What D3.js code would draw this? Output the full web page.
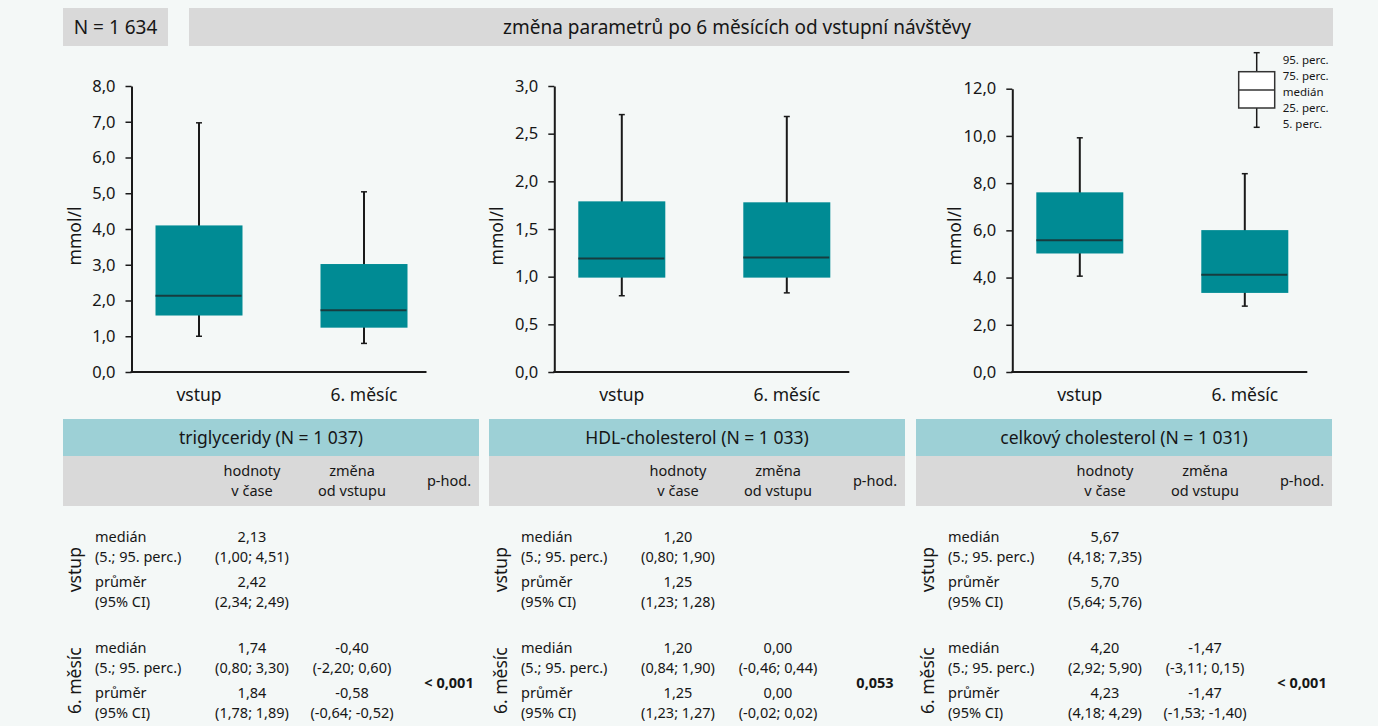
<!DOCTYPE html>
<meta charset="utf-8">
<style>
body { margin: 0; background: #f4f8f7; }
svg { display: block; font-family: "Noto Sans", sans-serif; }
text { fill: #161616; }
</style>
<svg width="1378" height="726"></svg>
<script src="https://d3js.org/d3.v7.min.js"></script>
<script>

// data
var totalN = "N = 1 634";
var title = "změna parametrů po 6 měsících od vstupní návštěvy";
var panels = ["triglyceridy", "HDL-cholesterol", "celkový cholesterol"];
var panelN = [1037, 1033, 1031];
var categories = ["vstup", "6. měsíc"];

// box stats: [5. perc, 25. perc, median, 75. perc, 95. perc]
var trigBox = [[1.00, 1.58, 2.13, 4.10, 6.97], [0.80, 1.24, 1.73, 3.02, 5.04]];
var hdlBox = [[0.80, 0.99, 1.19, 1.79, 2.70], [0.83, 0.99, 1.20, 1.78, 2.68]];
var cholBox = [[4.06, 5.02, 5.58, 7.61, 9.92], [2.79, 3.35, 4.12, 6.01, 8.40]];
var yMax = [8, 3, 12];
var yStep = [1, 0.5, 2];

// table values: [median, p5, p95, mean, ciLow, ciHigh]
var trigStart = [2.13, 1.00, 4.51, 2.42, 2.34, 2.49];
var trigSix = [1.74, 0.80, 3.30, 1.84, 1.78, 1.89];
var trigChange = [-0.40, -2.20, 0.60, -0.58, -0.64, -0.52];
var hdlStart = [1.20, 0.80, 1.90, 1.25, 1.23, 1.28];
var hdlSix = [1.20, 0.84, 1.90, 1.25, 1.23, 1.27];
var hdlChange = [0.00, -0.46, 0.44, 0.00, -0.02, 0.02];
var cholStart = [5.67, 4.18, 7.35, 5.70, 5.64, 5.76];
var cholSix = [4.20, 2.92, 5.90, 4.23, 4.18, 4.29];
var cholChange = [-1.47, -3.11, 0.15, -1.47, -1.53, -1.40];
var pValues = ["< 0,001", "0,053", "< 0,001"];

var rowLabels = ["medián", "(5.; 95. perc.)", "průměr", "(95% CI)"];
var colHeads = [["hodnoty", "v čase"], ["změna", "od vstupu"]];
var legendLabels = ["95. perc.", "75. perc.", "medián", "25. perc.", "5. perc."];

var boxes = [trigBox, hdlBox, cholBox];
var tables = [[trigStart, trigSix, trigChange], [hdlStart, hdlSix, hdlChange], [cholStart, cholSix, cholChange]];

// layout
var axisX = [131.5, 554.3, 1012.3];
var yTop = [86, 86, 88.7];
var yBottom = 372;
var axisLen = 295;
var boxW = 87;
var tableX = [63, 489, 916];
var tableW = 416;

var boxFill = "#008b94";
var ink = "#1a1a1a";

var loc = d3.formatLocale({decimal: ",", thousands: " ", grouping: [3], currency: ["", ""], minus: "-"});
var f1 = loc.format(".1f"), f2 = loc.format(".2f"), fN = loc.format(",d");

var svg = d3.select("svg");

svg.append("rect").attr("width", 1378).attr("height", 726).attr("fill", "#f4f8f7");

// header
svg.append("rect").attr("x", 63).attr("y", 8).attr("width", 105).attr("height", 38).attr("fill", "#d9d9d9");
svg.append("text").attr("x", 115.5).attr("y", 27).attr("dy", "0.35em")
    .attr("text-anchor", "middle").style("font-size", "19px").text(totalN);
svg.append("rect").attr("x", 189).attr("y", 8).attr("width", 1144).attr("height", 38).attr("fill", "#d9d9d9");
svg.append("text").attr("x", 737).attr("y", 27).attr("dy", "0.35em")
    .attr("text-anchor", "middle").style("font-size", "19px").text(title);

panels.forEach(function(name, i) {
  var ax = axisX[i];
  var y = d3.scaleLinear().domain([0, yMax[i]]).range([yBottom, yTop[i]]);
  var x = d3.scalePoint().domain(categories).range([ax + 67.5, ax + 232.5]);
  var g = svg.append("g");

  // whiskers
  var bx = g.selectAll(".box")
    .data(categories.map(function(c, j) { return {cat: c, s: boxes[i][j]}; }))
    .enter().append("g").attr("class", "box");

  bx.append("line")
      .attr("x1", function(d) { return x(d.cat); })
      .attr("x2", function(d) { return x(d.cat); })
      .attr("y1", function(d) { return y(d.s[0]); })
      .attr("y2", function(d) { return y(d.s[4]); })
      .attr("stroke", ink).attr("stroke-width", 2);

  [0, 4].forEach(function(k) {
    bx.append("line")
        .attr("x1", function(d) { return x(d.cat) - 3; })
        .attr("x2", function(d) { return x(d.cat) + 3; })
        .attr("y1", function(d) { return y(d.s[k]); })
        .attr("y2", function(d) { return y(d.s[k]); })
        .attr("stroke", ink).attr("stroke-width", 1.5);
  });

  bx.append("rect")
      .attr("x", function(d) { return x(d.cat) - boxW / 2; })
      .attr("width", boxW)
      .attr("y", function(d) { return y(d.s[3]); })
      .attr("height", function(d) { return y(d.s[1]) - y(d.s[3]); })
      .attr("fill", boxFill);

  bx.append("line")
      .attr("x1", function(d) { return x(d.cat) - boxW / 2; })
      .attr("x2", function(d) { return x(d.cat) + boxW / 2 - 1; })
      .attr("y1", function(d) { return y(d.s[2]); })
      .attr("y2", function(d) { return y(d.s[2]); })
      .attr("stroke", "#173c3f").attr("stroke-width", 2);

  // axes
  var ya = g.append("g").attr("transform", "translate(" + ax + ",0)")
      .call(d3.axisLeft(y)
        .tickValues(d3.range(0, yMax[i] + 1e-6, yStep[i]))
        .tickFormat(f1).tickSize(6).tickSizeOuter(0).tickPadding(10));
  ya.select(".domain").attr("stroke", ink).attr("stroke-width", 2);
  ya.selectAll(".tick line").attr("stroke", ink).attr("stroke-width", 1.5);
  ya.selectAll(".tick text").style("font-size", "16.5px").style("font-family", "Noto Sans").attr("fill", "#161616");

  g.append("line").attr("x1", ax - 1).attr("x2", ax + axisLen)
      .attr("y1", yBottom).attr("y2", yBottom)
      .attr("stroke", ink).attr("stroke-width", 2);

  g.selectAll(".cat").data(categories).enter().append("text")
      .attr("x", function(d) { return x(d); })
      .attr("y", 395).attr("dy", "0.35em")
      .attr("text-anchor", "middle").style("font-size", "17.5px")
      .text(function(d) { return d; });

  g.append("text")
      .attr("transform", "translate(" + (ax - 57) + ",236) rotate(-90)")
      .attr("dy", "0.35em").attr("text-anchor", "middle")
      .style("font-size", "17.5px").text("mmol/l");

  // table
  var t = svg.append("g").attr("transform", "translate(" + tableX[i] + ",0)");
  t.append("rect").attr("y", 419).attr("width", tableW).attr("height", 37).attr("fill", "#9dd0d6");
  t.append("rect").attr("y", 456).attr("width", tableW).attr("height", 50).attr("fill", "#d9d9d9");
  t.append("text").attr("x", tableW / 2).attr("y", 437.5).attr("dy", "0.35em")
      .attr("text-anchor", "middle").style("font-size", "17.5px")
      .text(name + " (N = " + fN(panelN[i]) + ")");

  var colX = [189, 289, 386];
  colHeads.forEach(function(h, c) {
    h.forEach(function(line, l) {
      t.append("text").attr("x", colX[c]).attr("y", 471 + l * 20).attr("dy", "0.35em")
          .attr("text-anchor", "middle").style("font-size", "14.5px").text(line);
    });
  });
  t.append("text").attr("x", colX[2]).attr("y", 481).attr("dy", "0.35em")
      .attr("text-anchor", "middle").style("font-size", "14.5px").text("p-hod.");

  var groupY = [536.7, 647.7];
  var rowOff = [0, 20, 45, 65];
  var vals = tables[i];

  function cells(v) {
    return [f2(v[0]), "(" + f2(v[1]) + "; " + f2(v[2]) + ")", f2(v[3]), "(" + f2(v[4]) + "; " + f2(v[5]) + ")"];
  }

  categories.forEach(function(cat, gi) {
    var gy = groupY[gi];
    t.append("text")
        .attr("transform", "translate(12," + (gy + 33) + ") rotate(-90)")
        .attr("dy", "0.35em").attr("text-anchor", "middle")
        .style("font-size", "17.5px").text(cat);

    rowLabels.forEach(function(lab, r) {
      t.append("text").attr("x", 32).attr("y", gy + rowOff[r]).attr("dy", "0.35em")
          .style("font-size", "14.5px").text(lab);
    });

    var cols = gi === 0 ? [vals[0]] : [vals[1], vals[2]];
    cols.forEach(function(v, c) {
      cells(v).forEach(function(s, r) {
        t.append("text").attr("x", colX[c]).attr("y", gy + rowOff[r]).attr("dy", "0.35em")
            .attr("text-anchor", "middle").style("font-size", "14.5px").text(s);
      });
    });
  });

  t.append("text").attr("x", colX[2]).attr("y", 683).attr("dy", "0.35em")
      .attr("text-anchor", "middle").style("font-size", "14.5px").style("font-weight", "bold")
      .text(pValues[i]);
});

// legend
var lg = svg.append("g").attr("transform", "translate(1256.7,0)");
var legY = [52.7, 71.7, 90, 108, 127.3];
lg.append("line").attr("y1", legY[0]).attr("y2", legY[4]).attr("stroke", ink).attr("stroke-width", 1.5);
lg.append("line").attr("x1", -3).attr("x2", 3).attr("y1", legY[0]).attr("y2", legY[0]).attr("stroke", ink).attr("stroke-width", 1.5);
lg.append("line").attr("x1", -3).attr("x2", 3).attr("y1", legY[4]).attr("y2", legY[4]).attr("stroke", ink).attr("stroke-width", 1.5);
lg.append("rect").attr("x", -18).attr("y", legY[1]).attr("width", 36).attr("height", legY[3] - legY[1])
    .attr("fill", "#fff").attr("stroke", "#333").attr("stroke-width", 1.5);
lg.append("line").attr("x1", -18).attr("x2", 18).attr("y1", legY[2]).attr("y2", legY[2]).attr("stroke", "#333").attr("stroke-width", 1.5);
lg.selectAll(".ll").data(legendLabels).enter().append("text")
    .attr("x", 26).attr("y", function(d, k) { return 60 + k * 16; }).attr("dy", "0.35em")
    .style("font-size", "11.5px").text(function(d) { return d; });

</script>
